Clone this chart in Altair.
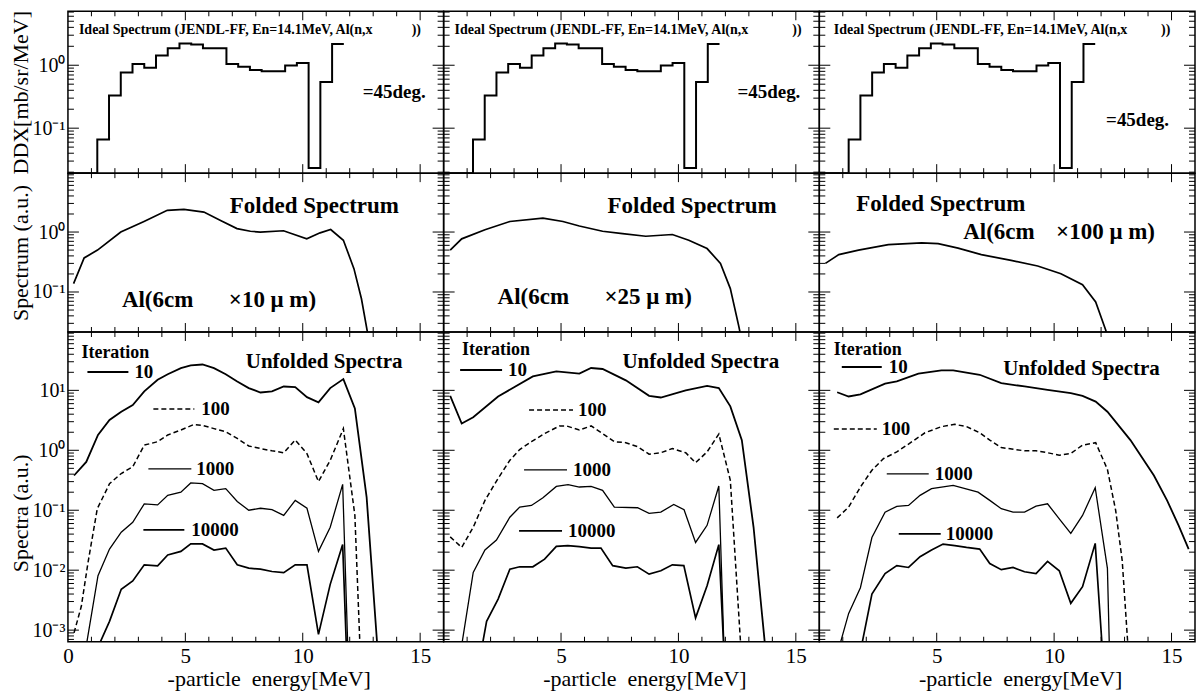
import altair as alt
import pandas as pd

FONT = "Liberation Serif"

# ---------------- data ----------------
X_LABELS_FIRST = [0, 5, 10, 15]
X_LABELS_OTHER = [5, 10, 15]
X_MAJOR = [5, 10, 15]
X_MINOR = [1, 2, 3, 4, 6, 7, 8, 9, 11, 12, 13, 14]

# ideal spectrum (histogram, identical in the three columns)
ideal_E = [0, 1.25, 1.75, 2.25, 2.75, 3.25, 3.75, 4.25, 4.75, 5.25, 5.75,
           6.75, 7.25, 7.75, 8.25, 9.25, 9.75, 10.25, 10.75, 11.25, 11.75]
ideal_v = [0.0193, 0.066, 0.33, 0.77, 1.05, 0.91, 1.43, 1.86, 2.21, 2.13, 1.86,
           1.05, 0.95, 0.84, 0.80, 0.99, 1.09, 0.0234, 0.54, 2.18, 2.18]

# folded spectra
fold1_E = [0.24, 0.69, 1.26, 2.25, 3.24, 4.23, 4.94, 5.79, 6.5, 7.2, 7.77, 8.19,
           9.18, 10.17, 10.74, 11.19, 11.73, 12.18, 12.5, 12.95]
fold1_v = [0.138, 0.37, 0.50, 1.0, 1.5, 2.3, 2.39, 2.15, 1.56, 1.14, 1.03, 1.0,
           1.05, 0.77, 0.97, 1.1, 0.73, 0.245, 0.077, 0.008]
fold2_E = [0.28, 0.77, 1.76, 2.82, 4.23, 5.08, 5.78, 6.77, 7.62, 8.61, 9.74,
           10.44, 11.22, 11.79, 12.21, 12.56, 12.8]
fold2_v = [0.50, 0.77, 1.09, 1.5, 1.71, 1.5, 1.26, 1.03, 0.94, 0.85, 0.91,
           0.73, 0.53, 0.30, 0.114, 0.028, 0.01]
fold3_E = [0.26, 0.83, 1.67, 2.94, 4.36, 5.06, 5.91, 6.9, 8.17, 9.3, 10.29,
           11.21, 11.77, 12.2, 12.4]
fold3_v = [0.30, 0.42, 0.50, 0.615, 0.66, 0.64, 0.54, 0.42, 0.337, 0.271, 0.202,
           0.132, 0.068, 0.023, 0.012]

# unfolded spectra, column 1 (10 um)
u1_10_E = [0.26, 0.78, 1.28, 1.77, 2.27, 2.76, 3.25, 3.82, 4.25, 4.81, 5.23, 5.73, 6.22,
           6.72, 7.21, 7.7, 8.2, 8.69, 9.19, 9.68, 10.18, 10.67, 11.17, 11.73, 12.22, 12.72, 13.2]
u1_10_v = [0.38, 0.64, 1.8, 3.2, 4.4, 5.7, 9.6, 15, 18.6, 23.5, 26, 27, 23.5,
           18.6, 14, 10.9, 9.2, 9.6, 11.6, 11.3, 7.7, 6.3, 10.9, 15.4, 5.0, 0.166, 0.0004]
u1_100_E = [0.26, 0.57, 0.86, 1.25, 1.77, 2.27, 2.76, 3.25, 3.82, 4.25, 4.81, 5.37, 5.73,
            6.22, 6.72, 7.21, 7.7, 8.2, 8.69, 9.19, 9.68, 10.18, 10.67, 11.17, 11.73, 12.22, 12.45]
u1_100_v = [0.0009, 0.0025, 0.0138, 0.106, 0.277, 0.41, 0.53, 1.22, 1.39, 1.8, 2.18, 2.7, 2.6,
            2.3, 2.04, 1.58, 1.18, 1.07, 0.98, 0.91, 1.48, 0.88, 0.30, 0.68, 2.3, 0.082, 0.0004]
u1_1000_E = [0.78, 1.28, 1.77, 2.27, 2.76, 3.25, 3.82, 4.25, 4.81, 5.23, 5.73, 6.22, 6.72,
             7.21, 7.7, 8.2, 8.69, 9.19, 9.68, 10.18, 10.67, 11.17, 11.7, 11.92]
u1_1000_v = [0.00055, 0.0081, 0.0225, 0.043, 0.063, 0.128, 0.123, 0.177, 0.20, 0.285, 0.277, 0.215, 0.229,
             0.14, 0.10, 0.108, 0.102, 0.082, 0.146, 0.108, 0.0206, 0.052, 0.27, 0.0005]
u1_10000_E = [1.35, 1.77, 2.27, 2.76, 3.25, 3.82, 4.25, 4.81, 5.23, 5.73, 6.22, 6.72,
              7.21, 7.7, 8.2, 8.69, 9.19, 9.68, 10.18, 10.67, 11.17, 11.7, 11.86]
u1_10000_v = [0.0006, 0.0014, 0.0048, 0.0066, 0.0123, 0.0118, 0.0179, 0.0206, 0.0274, 0.0274, 0.0217, 0.0234,
              0.0123, 0.0108, 0.0104, 0.0095, 0.0091, 0.0123, 0.0123, 0.00085, 0.0058, 0.0267, 0.0005]

# unfolded spectra, column 2 (25 um)
u2_10_E = [0.28, 0.77, 1.26, 2.32, 3.8, 4.8, 5.78, 6.28, 6.77, 7.76, 8.75, 9.25, 10.31,
           11.22, 11.72, 12.21, 12.7, 13.2, 13.7]
u2_10_v = [8.1, 2.8, 3.55, 7.9, 17.1, 20.7, 19, 23.6, 22.7, 14.7, 8.1, 7.6, 10,
           11.9, 10.9, 5.4, 1.48, 0.052, 0.0005]
u2_100_E = [0.28, 0.77, 1.26, 1.76, 2.32, 2.82, 3.24, 3.74, 4.3, 4.94, 5.23, 5.78, 6.28,
            6.77, 7.27, 7.76, 8.26, 8.75, 9.25, 9.74, 10.31, 10.73, 11.22, 11.72, 12.21, 12.66]
u2_100_v = [0.036, 0.024, 0.052, 0.146, 0.34, 0.68, 1.03, 1.39, 1.9, 2.55, 2.55, 2.18, 2.55,
            1.9, 1.39, 1.34, 1.15, 0.86, 0.91, 1.07, 0.91, 0.62, 0.94, 1.87, 0.316, 0.0005]
u2_1000_E = [0.75, 1.26, 1.76, 2.25, 2.82, 3.24, 3.74, 4.23, 4.8, 5.3, 5.78, 6.28, 6.77,
             7.27, 8.26, 8.75, 9.25, 9.8, 10.24, 10.73, 11.22, 11.72, 11.94]
u2_1000_v = [0.0005, 0.0092, 0.0217, 0.0318, 0.0766, 0.113, 0.12, 0.161, 0.25, 0.267, 0.244, 0.25, 0.215,
             0.113, 0.11, 0.089, 0.093, 0.125, 0.102, 0.029, 0.056, 0.254, 0.0005]
u2_10000_E = [1.66, 1.83, 2.32, 2.82, 3.24, 3.8, 4.3, 4.8, 5.29, 5.78, 6.28, 6.7, 7.2,
              7.76, 8.25, 8.75, 9.25, 9.74, 10.23, 10.73, 11.22, 11.72, 11.93]
u2_10000_v = [0.0006, 0.0014, 0.0033, 0.0104, 0.0114, 0.0114, 0.0153, 0.025, 0.0257, 0.0247, 0.0234, 0.0234, 0.0119,
              0.0108, 0.0114, 0.0086, 0.0098, 0.0123, 0.0119, 0.0016, 0.0055, 0.0267, 0.0005]

# unfolded spectra, column 3 (100 um)
u3_10_E = [0.76, 1.25, 1.75, 2.8, 3.3, 4.22, 5.2, 5.7, 6.83, 7.75, 8.74, 9.72, 10.71,
           11.21, 11.77, 12.27, 13.25, 14.25, 14.81, 15.3, 15.73]
u3_10_v = [9.3, 7.9, 8.6, 12.9, 14.1, 19, 21.6, 21.6, 18.2, 13.2, 11.6, 10.2, 9.0,
           8.1, 6.5, 4.4, 1.48, 0.38, 0.146, 0.056, 0.0225]
u3_100_E = [0.76, 1.25, 1.75, 2.24, 2.74, 3.3, 3.8, 4.5, 5.2, 5.77, 6.27, 6.83, 7.26,
            7.75, 8.74, 9.23, 9.72, 10.22, 10.71, 11.21, 11.77, 12.27, 12.62, 12.9, 13.15]
u3_100_v = [0.0746, 0.113, 0.244, 0.465, 0.73, 0.94, 1.27, 1.96, 2.48, 2.71, 2.48, 1.96, 1.48,
            1.11, 0.98, 0.98, 0.91, 0.83, 0.885, 1.22, 1.34, 0.48, 0.1, 0.0144, 0.0005]
u3_1000_E = [0.89, 1.25, 1.75, 2.24, 2.8, 3.3, 3.8, 4.29, 4.78, 5.7, 6.76, 7.26, 7.75,
             8.25, 8.74, 9.23, 9.72, 10.22, 10.71, 11.21, 11.75, 12.27, 12.36]
u3_1000_v = [0.0006, 0.0019, 0.0051, 0.035, 0.093, 0.116, 0.12, 0.177, 0.229, 0.26, 0.20, 0.146, 0.106,
             0.093, 0.093, 0.117, 0.128, 0.0718, 0.041, 0.082, 0.237, 0.0107, 0.0004]
u3_10000_E = [1.82, 2.24, 2.8, 3.3, 3.8, 4.29, 4.78, 5.27, 5.77, 6.27, 6.83, 7.26, 7.75,
              8.25, 8.74, 9.23, 9.72, 10.22, 10.71, 11.21, 11.75, 12.05]
u3_10000_v = [0.0006, 0.004, 0.0088, 0.0119, 0.0111, 0.0168, 0.0217, 0.0273, 0.0257, 0.024, 0.0225, 0.0129, 0.0102,
              0.0111, 0.0094, 0.0088, 0.014, 0.0098, 0.0028, 0.0053, 0.028, 0.0005]

# ---------------- layout / styles ----------------
W = 376
ROW_H = {"top": 162, "mid": 159, "bot": 310}
Y_DOMAIN = {"top": [0.0193, 7.2], "mid": [0.0215, 9.6], "bot": [0.00064, 94]}
Y_LABELS = {"top": [0.1, 1], "mid": [0.1, 1], "bot": [0.001, 0.01, 0.1, 1, 10]}
Y_TITLE = {"top": "DDX[mb/sr/MeV]", "mid": "Spectrum (a.u.)", "bot": "Spectra (a.u.)"}
X_TITLE = "-particle\u00a0 energy[MeV]"

LOGL = "round(log(datum.value)/LN10)"
LABEL_EXPR = (f"{LOGL} == 1 ? '10¹' : {LOGL} == 0 ? '10⁰' : {LOGL} == -1 ? '10⁻¹' : "
              f"{LOGL} == -2 ? '10⁻²' : '10⁻³'")

ONE = pd.DataFrame({"a": [0]})


def log_ticks(lo, hi):
    major, minor = [], []
    for e in range(-4, 3):
        for k in range(1, 10):
            v = k * 10.0 ** e
            if lo * 1.001 < v < hi * 0.999:
                (major if k == 1 else minor).append(v)
    return major, minor


def encoders(row, col):
    xs = alt.Scale(domain=[0, 16], nice=False, zero=False)
    ys = alt.Scale(type="log", domain=Y_DOMAIN[row], nice=False)
    if row == "bot":
        xaxis = alt.Axis(values=X_LABELS_FIRST if col == 0 else X_LABELS_OTHER,
                         labelFont=FONT, labelFontSize=21, labelColor="black",
                         labelPadding=21, labelBaseline="alphabetic", labelFlush=False,
                         ticks=False, tickSize=0, domain=False, grid=False,
                         title=X_TITLE, titleFont=FONT, titleFontSize=22,
                         titleFontWeight="normal", titleColor="black",
                         titleX=201, titleY=44, titleBaseline="alphabetic", titleAlign="center")
    else:
        xaxis = None
    if col == 0:
        yaxis = alt.Axis(values=Y_LABELS[row], labelExpr=LABEL_EXPR, labelFont=FONT,
                         labelFontSize=20, labelColor="black", labelPadding=3,
                         labelAlign="right", labelBaseline="middle", labelFlush=False,
                         ticks=False, tickSize=0, domain=False, grid=False,
                         minExtent=33, maxExtent=33,
                         title=Y_TITLE[row], titleFont=FONT, titleFontSize=22,
                         titleFontWeight="normal", titleColor="black", titlePadding=2,
                         **({"titleY": 181} if row == "bot" else {}))
    else:
        yaxis = None

    def X(f):
        return alt.X(f"{f}:Q", scale=xs, axis=xaxis)

    def Y(f):
        return alt.Y(f"{f}:Q", scale=ys, axis=yaxis)
    return X, Y


def line(E, v, X, Y, width=1.7, dash=None, step=False):
    kw = dict(color="black", strokeWidth=width, clip=True,
              interpolate="step-after" if step else "linear")
    if dash:
        kw["strokeDash"] = dash
    return alt.Chart(pd.DataFrame({"E": E, "v": v})).mark_line(**kw).encode(x=X("E"), y=Y("v"))


def ticks(row, X, Y):
    h = ROW_H[row]
    ymaj, ymin = log_ticks(*Y_DOMAIN[row])
    out = []
    for vals, L in ((X_MAJOR, 9), (X_MINOR, 5)):
        base = alt.Chart(pd.DataFrame({"t": vals})).mark_rule(color="black", strokeWidth=1)
        out.append(base.encode(x=X("t"), y=alt.value(h), y2=alt.value(h - L)))
        out.append(base.encode(x=X("t"), y=alt.value(0), y2=alt.value(L)))
    for vals, L in ((ymaj, 11), (ymin, 6)):
        base = alt.Chart(pd.DataFrame({"t": vals})).mark_rule(color="black", strokeWidth=1)
        out.append(base.encode(y=Y("t"), x=alt.value(0), x2=alt.value(L)))
        out.append(base.encode(y=Y("t"), x=alt.value(W), x2=alt.value(W - L)))
    return out


def txt(s, x, y, size, weight="bold"):
    return alt.Chart(ONE).mark_text(text=s, font=FONT, fontSize=size, fontWeight=weight,
                                    align="left", baseline="middle", color="black").encode(
        x=alt.value(x), y=alt.value(y))


def seg(x1, x2, y, width, dash=None):
    kw = dict(color="black", strokeWidth=width)
    if dash:
        kw["strokeDash"] = dash
    return alt.Chart(ONE).mark_rule(**kw).encode(x=alt.value(x1), x2=alt.value(x2), y=alt.value(y))


# annotation placements (pixels inside each panel)
TOP_TXT = [(11, 344, 295, 81), (11, 349, 294, 81), (14.5, 342, 287, 109)]
MID_TXT = [((162, 33), (54, 127), (161, 127), "×10 μ m)"),
           ((164, 33), (54, 124), (161, 124), "×25 μ m)"),
           ((37, 31), (144, 59), (237, 59), "×100 μ m)")]
LEG = [
    {"it": (13.5, 21), "uf": (178, 30),
     "l10": (19.5, 60.5, 40, 66.5), "l100": (85.5, 126.5, 77, 133.5),
     "l1000": (80.5, 123.5, 137, 128.5), "l10000": (75.5, 116.5, 198, 123.5)},
    {"it": (18.5, 18), "uf": (179, 30),
     "l10": (16.5, 58.5, 38, 64.5), "l100": (85.5, 129.5, 78, 134.5),
     "l1000": (80.5, 123.5, 138, 129.5), "l10000": (75.5, 118.5, 199, 124.5)},
    {"it": (14.5, 18), "uf": (184, 37),
     "l10": (22.5, 62.5, 35, 69.5), "l100": (14.5, 57.5, 97, 62.5),
     "l1000": (67.5, 109.5, 142, 115.5), "l10000": (79.5, 121.5, 202, 126.5)},
]

FOLDED = [(fold1_E, fold1_v), (fold2_E, fold2_v), (fold3_E, fold3_v)]
UNFOLDED = [
    [(u1_10_E, u1_10_v), (u1_100_E, u1_100_v), (u1_1000_E, u1_1000_v), (u1_10000_E, u1_10000_v)],
    [(u2_10_E, u2_10_v), (u2_100_E, u2_100_v), (u2_1000_E, u2_1000_v), (u2_10000_E, u2_10000_v)],
    [(u3_10_E, u3_10_v), (u3_100_E, u3_100_v), (u3_1000_E, u3_1000_v), (u3_10000_E, u3_10000_v)],
]

panels = []
for row in ("top", "mid", "bot"):
    for col in range(3):
        X, Y = encoders(row, col)
        layers = []
        if row == "top":
            layers.append(line(ideal_E, ideal_v, X, Y, width=2, step=True))
            tx, cx, dx, dy = TOP_TXT[col]
            layers.append(txt("Ideal Spectrum (JENDL-FF, En=14.1MeV, Al(n,x", tx, 19, 14))
            layers.append(txt("))", cx, 19, 14))
            layers.append(txt("=45deg.", dx, dy, 19))
        elif row == "mid":
            E, v = FOLDED[col]
            layers.append(line(E, v, X, Y, width=1.7))
            (fx, fy), (ax, ay), (bx, by), btxt = MID_TXT[col]
            layers.append(txt("Folded Spectrum", fx, fy, 23))
            layers.append(txt("Al(6cm", ax, ay, 23))
            layers.append(txt(btxt, bx, by, 23))
        else:
            s10, s100, s1000, s10000 = UNFOLDED[col]
            layers.append(line(*s10, X, Y, width=1.8))
            layers.append(line(*s100, X, Y, width=1.5, dash=[5, 3]))
            layers.append(line(*s1000, X, Y, width=1.3))
            layers.append(line(*s10000, X, Y, width=1.7))
            lg = LEG[col]
            layers.append(txt("Iteration", lg["it"][0], lg["it"][1], 18))
            layers.append(txt("Unfolded Spectra", lg["uf"][0], lg["uf"][1], 21))
            for key, lab, wdt, dash in (("l10", "10", 1.8, None), ("l100", "100", 1.5, [5, 3]),
                                        ("l1000", "1000", 1.3, None), ("l10000", "10000", 1.7, None)):
                x1, x2, yy, tx = lg[key]
                layers.append(seg(x1, x2, yy, wdt, dash))
                layers.append(txt(lab, tx, yy, 19))
        layers += ticks(row, X, Y)
        panels.append(alt.layer(*layers).properties(width=W, height=ROW_H[row]))

chart = alt.concat(*panels, columns=3, spacing=0, bounds="flush", align="each").properties(
    padding={"left": 9, "top": 9, "right": 0, "bottom": 0},
    background="white",
).configure(font=FONT).configure_view(stroke="black", strokeWidth=1.5)

chart.save("out.html", embed_options={"renderer": "svg", "actions": False})
